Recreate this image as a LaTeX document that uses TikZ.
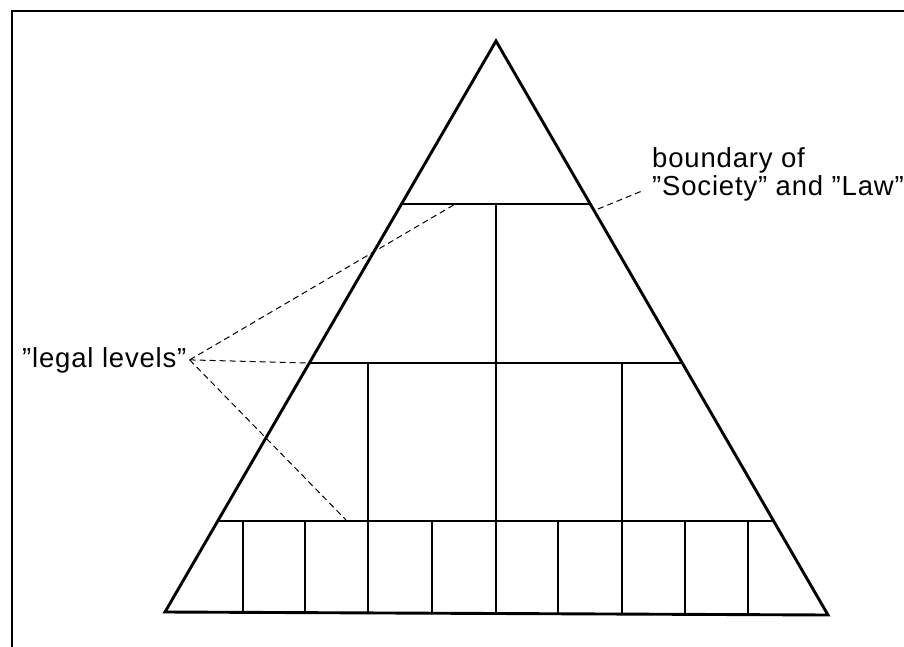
\documentclass[tikz,border=0pt]{standalone}
\usepackage{fontspec}
\setmainfont[LetterSpace=3]{Liberation Sans}

\begin{document}
\begin{tikzpicture}[x=1pt, y=-1pt, rim/.style={line width=2.9pt, line join=miter}, cell/.style={line width=1.6pt}, leader/.style={dash pattern=on 6pt off 4pt, line width=1pt}, caption/.style={font=\fontsize{27.5}{28}\selectfont, inner sep=0pt}]
\useasboundingbox (0,0) rectangle (904,647);
\draw[line width=1.8pt] (12,647) -- (12,11) -- (904,11);
% pyramid outline
\coordinate (apex) at (496,41); \coordinate (baseL) at (165,612); \coordinate (baseR) at (828,615);
\draw[rim] (baseL) -- (apex) -- (baseR) -- cycle;
% levels
\draw[cell] (401,204) -- (591,204);
\draw[cell] (309,363) -- (683,363);
\draw[cell] (218,521) -- (774,521);
% dividers
\draw[cell] (496,204) -- (496,613);
\foreach \x in {368,622} \draw[cell] (\x,363) -- (\x,613);
\foreach \x in {243,305,432,558,685,748} \draw[cell] (\x,521) -- (\x,613);
% labels
\node[caption, anchor=base west] (legal) at (22,367) {"legal levels"};
\node[caption, anchor=north west, align=left] (boundary) at (652,147) {boundary of\\"Society" and "Law"};
\coordinate (lvlA) at (457,203); \coordinate (lvlB) at (309,363); \coordinate (lvlC) at (347,521);
\coordinate (edgeSL) at (598,209); \coordinate (bndEnd) at (642,191);
\foreach \t in {lvlA,lvlB,lvlC} \draw[leader] ([xshift=3pt]legal.east) -- (\t);
\draw[leader] (edgeSL) -- (bndEnd);
\end{tikzpicture}
\end{document}
